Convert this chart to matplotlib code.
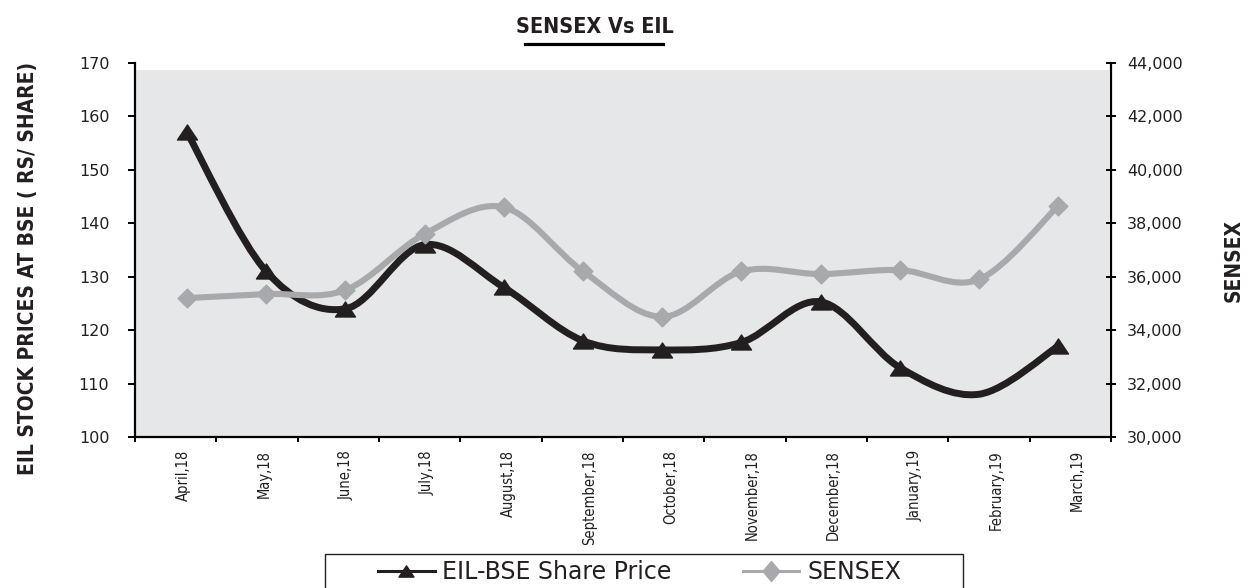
import numpy as np
import matplotlib
matplotlib.use("Agg")
import matplotlib.pyplot as plt
from matplotlib.path import Path
from matplotlib.patches import PathPatch, Rectangle
from matplotlib.lines import Line2D
from matplotlib.ticker import FuncFormatter, FixedLocator
from matplotlib import font_manager as fm

# ---------------- data ----------------
months = ["April,18", "May,18", "June,18", "July,18", "August,18", "September,18",
          "October,18", "November,18", "December,18", "January,19", "February,19", "March,19"]
eil_price = [157, 131, 124, 136, 128, 118, 116.3, 117.7, 125.3, 113, 108, 117]
sensex = [35200, 35350, 35500, 37600, 38600, 36200, 34500, 36200, 36100, 36250, 35900, 38650]
left_ticks = [100, 110, 120, 130, 140, 150, 160, 170]
right_ticks = [30000, 32000, 34000, 36000, 38000, 40000, 42000, 44000]

# ---------------- fonts ----------------
names = {f.name for f in fm.fontManager.ttflist}
NARROW = "Liberation Sans Narrow" if "Liberation Sans Narrow" in names else "DejaVu Sans"
NSTRETCH = "normal" if NARROW == "Liberation Sans Narrow" else "condensed"
WIDE = "DejaVu Sans"

BLACK = "#231f20"
GREY = "#a7a9ac"
BG = "#e6e7e8"

W, H = 1250, 588
fig = plt.figure(figsize=(W / 100, H / 100), dpi=100)
fig.patch.set_facecolor("white")

L, R, T, B = 135, 1111, 63, 437
ax = fig.add_axes([L / W, 1 - B / H, (R - L) / W, (B - T) / H])
ax.set_facecolor("white")
ax2 = ax.twinx()

n = len(months)
XMIN, XMAX = -0.657, 11.667
step = (XMAX - XMIN) / n
bounds = XMIN + step * np.arange(n + 1)
label_pos = bounds[:-1] + 0.59 * step

ax.set_xlim(XMIN, XMAX)
ax.set_ylim(left_ticks[0], left_ticks[-1])
ax2.set_ylim(right_ticks[0], right_ticks[-1])

# plot-area background
ax.add_patch(Rectangle((0.001, 0), 0.997, 0.981, transform=ax.transAxes,
                       facecolor=BG, edgecolor="none", zorder=0.5))


def smooth_path(xs, ys):
    P = np.column_stack([xs, ys]).astype(float)
    m = len(P)
    verts = [tuple(P[0])]
    codes = [Path.MOVETO]
    for i in range(m - 1):
        p0 = P[i - 1] if i > 0 else P[i]
        p1, p2 = P[i], P[i + 1]
        p3 = P[i + 2] if i + 2 < m else P[i + 1]
        c1 = p1 + (p2 - p0) / 6.0
        c2 = p2 - (p3 - p1) / 6.0
        verts += [tuple(c1), tuple(c2), tuple(p2)]
        codes += [Path.CURVE4] * 3
    return Path(verts, codes)


xs = np.arange(n)
tri = Path([(0, 0.75), (-1, -0.75), (1, -0.75), (0, 0.75)],
           [Path.MOVETO, Path.LINETO, Path.LINETO, Path.CLOSEPOLY])
dia = Path([(0, 1), (1, 0), (0, -1), (-1, 0), (0, 1)],
           [Path.MOVETO, Path.LINETO, Path.LINETO, Path.LINETO, Path.CLOSEPOLY])
dia_tall = Path([(0, 1), (0.85, 0), (0, -1), (-0.85, 0), (0, 1)],
                [Path.MOVETO, Path.LINETO, Path.LINETO, Path.LINETO, Path.CLOSEPOLY])

# EIL line
ax.add_patch(PathPatch(smooth_path(xs, eil_price), facecolor="none", edgecolor=BLACK,
                       lw=5, capstyle="round", joinstyle="round", zorder=3))
ax.plot(xs, eil_price, linestyle="none", marker=tri, markersize=14.4,
        color=BLACK, markevery=[i for i in range(n) if i != 10], zorder=4)

# SENSEX line
ax2.add_patch(PathPatch(smooth_path(xs, sensex), facecolor="none", edgecolor=GREY,
                        lw=4.4, capstyle="round", joinstyle="round", zorder=3))
ax2.plot(xs, sensex, linestyle="none", marker=dia, markersize=13.5,
         color=GREY, zorder=4)

# spines
for s in ["top", "right"]:
    ax.spines[s].set_visible(False)
for s in ["top", "left", "bottom"]:
    ax2.spines[s].set_visible(False)
ax.spines["left"].set_linewidth(1.6)
ax.spines["bottom"].set_linewidth(1.6)
ax2.spines["right"].set_linewidth(1.6)
for s in [ax.spines["left"], ax.spines["bottom"], ax2.spines["right"]]:
    s.set_color("black")

# y ticks
ax.set_yticks(left_ticks)
ax.tick_params(axis="y", direction="out", length=5, width=1.4, pad=13.5,
               labelsize=11.5, colors="black")
ax2.set_yticks(right_ticks)
ax2.yaxis.set_major_formatter(FuncFormatter(lambda v, p: f"{int(v):,}"))
ax2.tick_params(axis="y", direction="inout", length=7, width=1.4, pad=8,
                labelsize=11.5, colors="black")
for lab in ax.get_yticklabels() + ax2.get_yticklabels():
    lab.set_family(WIDE)
    lab.set_fontstretch("normal")
    lab.set_color("#231f20")

# x ticks: boundaries as major ticks, labels as minor ticks
ax.xaxis.set_major_locator(FixedLocator(bounds))
ax.xaxis.set_major_formatter(FuncFormatter(lambda v, p: ""))
ax.xaxis.set_minor_locator(FixedLocator(label_pos))
ax.set_xticks(label_pos, months, minor=True)
ax.tick_params(axis="x", which="major", direction="out", length=3.5, width=1.4)
ax.tick_params(axis="x", which="minor", length=0, pad=9.5, labelsize=10.5,
               labelrotation=90)
for lab in ax.get_xticklabels(minor=True):
    lab.set_family(NARROW)
    lab.set_fontstretch(NSTRETCH)
    lab.set_color("#231f20")

# axis titles
fig.text(28 / W, 1 - 268 / H, "EIL STOCK PRICES AT BSE ( RS/ SHARE)", rotation=90,
         ha="center", va="center", fontsize=15, fontweight="bold", family=NARROW,
         fontstretch=NSTRETCH, color=BLACK)
fig.text(1234 / W, 1 - 260 / H, "SENSEX", rotation=90, ha="center", va="center",
         fontsize=15, fontweight="bold", family=NARROW, fontstretch=NSTRETCH, color=BLACK)

# title with underline
fig.text(595 / W, 1 - 27 / H, "SENSEX Vs EIL", ha="center", va="center", fontsize=15.5,
         fontweight="bold", family=NARROW, fontstretch=NSTRETCH, color=BLACK)
fig.add_artist(Line2D([525 / W, 663 / W], [1 - 43.5 / H, 1 - 43.5 / H],
                      transform=fig.transFigure, color="black", lw=2.3))

# legend
fig.add_artist(Rectangle((325 / W, 1 - 600 / H), (963 - 325) / W, (600 - 554) / H,
                         transform=fig.transFigure, fill=False, edgecolor=BLACK, lw=1.0))
h1 = Line2D([], [], color=BLACK, lw=2.2, marker=tri, markersize=10.8)
h2 = Line2D([], [], color=GREY, lw=2.2, marker=dia_tall, markersize=14.4)
leg = fig.legend([h1, h2], ["EIL-BSE Share Price", "SENSEX"], loc="center left",
                 bbox_to_anchor=(378 / W, 1 - 572 / H), frameon=False, ncol=2,
                 prop={"family": WIDE, "size": 17}, handlelength=2.4,
                 handletextpad=0.33, columnspacing=3.0, borderpad=0,
                 borderaxespad=0)
for t in leg.get_texts():
    t.set_color(BLACK)

fig.savefig("out.png", dpi=100, facecolor="white")
